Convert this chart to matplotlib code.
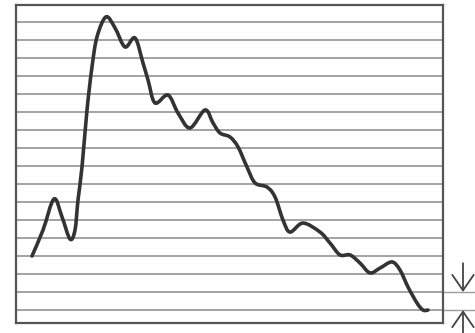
import numpy as np
import matplotlib
matplotlib.use("Agg")
import matplotlib.pyplot as plt
from matplotlib.path import Path
from matplotlib.patches import PathPatch

# curve (x in px from left frame, y in grid units)
x = [16, 27, 38, 46, 54, 59, 62, 66, 71, 76, 81, 90, 99, 109, 119, 127, 132, 139,
     152, 162, 174, 189, 197, 204, 214, 222, 231, 239, 251, 259, 267, 274, 287,
     304, 314, 324, 334, 344, 354, 364, 376, 384, 392, 401, 407, 412]
y = [4.0, 5.44, 7.17, 6.17, 4.94, 5.44, 7.11, 8.94, 12.11, 14.5, 16.17, 17.28,
     16.67, 15.61, 16.11, 14.72, 13.78, 12.5, 12.94, 11.94, 11.11, 12.11, 11.39,
     10.83, 10.61, 10.06, 8.94, 8.06, 7.83, 7.28, 6.0, 5.33, 5.83, 5.33, 4.72,
     4.06, 4.06, 3.61, 3.06, 3.33, 3.67, 3.22, 2.28, 1.39, 1.0, 1.0]
grid_levels = list(range(1, 18))

fig = plt.figure(figsize=(4.75, 3.33), dpi=100)
ax = fig.add_axes([16/475, 10/333, 427/475, 318/333])
ax.set_xlim(0, 427)
ax.set_ylim(0.28, 17.94)

for g in grid_levels:
    ax.axhline(g, color='#9c9c9c', lw=1.3, zorder=1)

# smooth bezier path through the traced points
pts = np.column_stack([x, y]).astype(float)
verts = [pts[0]]
codes = [Path.MOVETO]
n = len(pts)
for i in range(n - 1):
    p0 = pts[max(i - 1, 0)]
    p1 = pts[i]
    p2 = pts[i + 1]
    p3 = pts[min(i + 2, n - 1)]
    verts += [p1 + (p2 - p0) / 6, p2 - (p3 - p1) / 6, p2]
    codes += [Path.CURVE4] * 3
ax.add_patch(PathPatch(Path(verts, codes), fill=False, edgecolor='#333333',
                       lw=2.6, joinstyle='round', capstyle='round', zorder=3))

for s in ax.spines.values():
    s.set_color('#555555')
    s.set_linewidth(1.6)
ax.set_xticks([])
ax.set_yticks([])

# dimension marker at the right
for g in [1, 2]:
    ax.plot([427, 462], [g, g], color='#9c9c9c', lw=1.0, clip_on=False)
arrow = dict(arrowstyle='->,head_width=0.55,head_length=0.8',
             color='#444444', lw=1.3, shrinkA=0, shrinkB=0, mutation_scale=14)
ax.annotate('', xy=(447, 2), xytext=(447, 3.6), annotation_clip=False,
            arrowprops=arrow)
ax.annotate('', xy=(447, 1), xytext=(447, -0.6), annotation_clip=False,
            arrowprops=arrow)

fig.savefig('out.png', dpi=100)
